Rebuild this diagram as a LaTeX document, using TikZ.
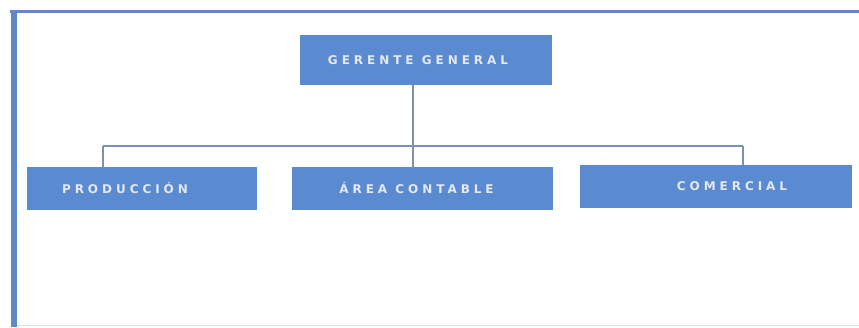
\documentclass[tikz,border=0pt]{standalone}
\usepackage{fontspec}
\newfontfamily\cargofont[LetterSpace=33]{DejaVu Sans}
\definecolor{cajaazul}{HTML}{5A8AD0}
\definecolor{lineagris}{HTML}{7D90B4}
\definecolor{marco}{HTML}{5E89CC}
\definecolor{marcoclaro}{HTML}{D4E4F4}
\definecolor{letra}{HTML}{E4E9F3}
\begin{document}
\begin{tikzpicture}[x=1pt,y=-1pt,
  cargo/.style={fill=cajaazul,text=letra,font=\cargofont\bfseries\fontsize{12}{14}\selectfont,inner sep=0pt},
  enlace/.style={draw=lineagris,line width=2.6pt}]
\useasboundingbox (0,0) rectangle (859,327);
\draw[marco!80!gray,line width=3pt] (10,11) -- (859,11);
\draw[marcoclaro,line width=1.5pt] (14,325.5) -- (859,325.5);
\draw[marco,line width=6pt] (14,9.5) -- (14,327);
\node[cargo,minimum width=252pt,minimum height=50pt] (gerente) at (426,60) {GERENTE GENERAL\hspace*{16pt}};
\node[cargo,minimum width=230pt,minimum height=43pt] (prod) at (142,188.5) {PRODUCCIÓN\hspace*{34pt}};
\node[cargo,minimum width=261pt,minimum height=43pt] (area) at (422.5,188.5) {ÁREA CONTABLE\hspace*{12pt}};
\node[cargo,minimum width=272pt,minimum height=43pt] (comer) at (716,186.5) {\hspace*{32pt}COMERCIAL};
\coordinate (bus) at (413,146);
\coordinate (busL) at (103,146);
\coordinate (busR) at (743,146);
\draw[enlace] (bus |- gerente.south) -- (bus |- area.north);
\draw[enlace] (busL) -- (busR);
\draw[enlace] (busL) -- (busL |- prod.north);
\draw[enlace] (busR) -- (busR |- comer.north);
\end{tikzpicture}
\end{document}
